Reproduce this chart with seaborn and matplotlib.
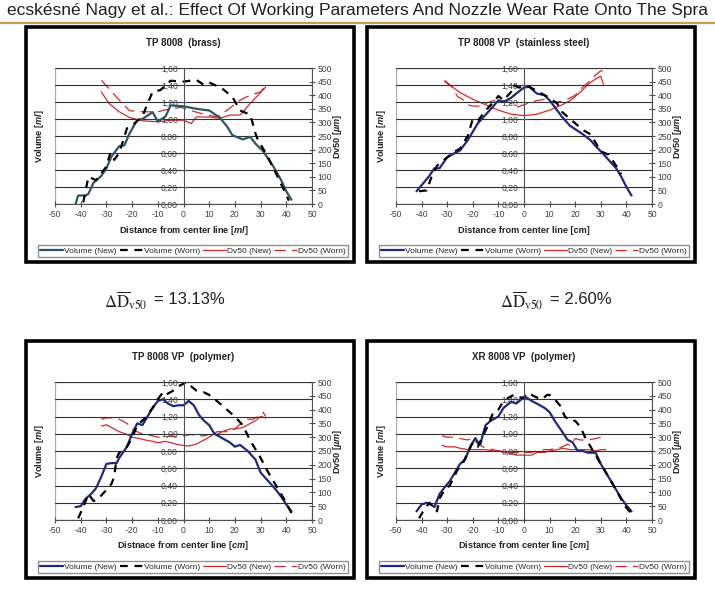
import matplotlib.pyplot as plt
import seaborn as sns
import pandas as pd
from matplotlib.patches import Rectangle
from matplotlib.lines import Line2D

sns.set_style('white')
plt.rcParams['font.family'] = ['Liberation Sans', 'DejaVu Sans']
plt.rcParams['mathtext.fontset'] = 'custom'
plt.rcParams['mathtext.rm'] = 'Liberation Sans'
plt.rcParams['mathtext.it'] = 'Liberation Sans:italic'
plt.rcParams['mathtext.bf'] = 'Liberation Sans:bold:italic'

# ---- axis ticks ----
x_ticks = [-50, -40, -30, -20, -10, 0, 10, 20, 30, 40, 50]
vol_ticks = [0.0, 0.2, 0.4, 0.6, 0.8, 1.0, 1.2, 1.4, 1.6]
vol_tick_labels = ['0,00', '0,20', '0,40', '0,60', '0,80', '1,00', '1,20', '1,40', '1,60']
dv_ticks = [0, 50, 100, 150, 200, 250, 300, 350, 400, 450, 500]

legend_labels = ['Volume (New)', 'Volume (Worn)', 'Dv50 (New)', 'Dv50 (Worn)']

# ---- TP 8008 (brass) ----
brass_vol_new_x = [-42, -41, -38, -37, -35, -32, -30, -28, -27, -25, -23, -21, -18, -16, -12, -10, -7, -5,
                   0, 5, 10, 14, 17, 19, 23, 26, 28, 31, 35, 38, 40, 42]
brass_vol_new_y = [0.00, 0.10, 0.10, 0.12, 0.25, 0.33, 0.42, 0.56, 0.60, 0.68, 0.69, 0.83, 0.99, 1.00, 1.08,
                   0.97, 1.03, 1.16, 1.15, 1.12, 1.10, 1.02, 0.91, 0.81, 0.76, 0.79, 0.71, 0.62, 0.44, 0.28,
                   0.15, 0.05]
brass_vol_worn_x = [-39, -37, -34, -30, -28.5, -27, -25, -22, -19, -16, -14, -12, -9, -5, 0, 5, 8, 10, 15,
                    19, 22, 26, 28, 29, 32, 36, 39, 41]
brass_vol_worn_y = [0.02, 0.32, 0.28, 0.44, 0.60, 0.52, 0.60, 0.89, 0.95, 1.03, 1.18, 1.32, 1.34, 1.45, 1.44,
                    1.46, 1.40, 1.43, 1.36, 1.26, 1.10, 1.05, 0.83, 0.75, 0.60, 0.36, 0.17, 0.04]
brass_dv_new_x = [-32, -29, -25, -21, -16, -10, -5, 0, 3, 5, 10, 14, 18, 22, 26, 29, 32]
brass_dv_new_y = [412, 370, 339, 318, 306, 302, 308, 308, 296, 320, 320, 315, 327, 327, 370, 400, 430]
brass_dv_worn_x = [-32, -29, -25, -21, -16, -10, -5, -1, 3, 8, 13, 17, 22, 26, 30, 32]
brass_dv_worn_y = [455, 424, 382, 343, 339, 339, 351, 355, 343, 330, 320, 345, 382, 400, 412, 437]

# ---- TP 8008 VP (stainless steel) ----
steel_vol_new_x = [-42, -40, -37, -35, -33, -30, -27, -25, -22, -20, -18, -15, -12, -10, -8, -5, -3, 0, 2, 5,
                   8, 10, 13, 15, 18, 20, 23, 26, 28, 30, 33, 36, 38, 40, 42]
steel_vol_new_y = [0.15, 0.22, 0.33, 0.42, 0.42, 0.55, 0.60, 0.63, 0.75, 0.85, 0.95, 1.05, 1.15, 1.22, 1.20,
                   1.25, 1.30, 1.37, 1.38, 1.30, 1.28, 1.22, 1.10, 1.02, 0.92, 0.88, 0.82, 0.75, 0.68, 0.62,
                   0.52, 0.42, 0.32, 0.20, 0.10]
steel_vol_worn_x = [-41, -38, -36, -34, -30, -27, -25, -22, -20, -18, -15, -12, -10, -8, -5, -4, -2, 0, 2, 5,
                    8, 10, 13, 15, 18, 20, 23, 26, 28, 30, 33, 36, 38]
steel_vol_worn_y = [0.15, 0.16, 0.33, 0.45, 0.55, 0.62, 0.65, 0.80, 1.00, 0.98, 1.10, 1.20, 1.27, 1.22, 1.32,
                    1.40, 1.37, 1.38, 1.38, 1.33, 1.28, 1.25, 1.18, 1.08, 1.00, 0.95, 0.87, 0.82, 0.72, 0.62,
                    0.58, 0.45, 0.35]
steel_dv_new_x = [-31, -28, -25, -22, -20, -15, -10, -5, 0, 5, 10, 15, 18, 20, 23, 25, 28, 30, 31]
steel_dv_new_y = [450, 430, 410, 395, 385, 365, 345, 330, 325, 330, 345, 365, 380, 395, 420, 440, 460, 470, 440]
steel_dv_worn_x = [-31, -28, -26, -24, -22, -20, -17, -15, -12, -10, -8, -5, -3, 0, 3, 5, 8, 10, 13, 16, 20,
                   23, 26, 28, 30, 32]
steel_dv_worn_y = [455, 430, 395, 385, 365, 360, 360, 370, 380, 375, 380, 370, 355, 365, 375, 380, 385, 375,
                   375, 380, 400, 430, 455, 475, 490, 485]

# ---- TP 8008 VP (polymer) ----
tppoly_vol_new_x = [-42, -40, -38, -36, -34, -32, -30, -28, -26, -25, -22, -20, -18, -16, -15, -12, -10, -8,
                    -6, -4, -2, 0, 2, 4, 6, 8, 10, 12, 15, 18, 20, 22, 25, 28, 30, 33, 36, 38, 40, 42]
tppoly_vol_new_y = [0.15, 0.16, 0.25, 0.30, 0.37, 0.50, 0.65, 0.66, 0.66, 0.72, 0.85, 1.00, 1.12, 1.10, 1.15,
                    1.30, 1.38, 1.40, 1.35, 1.32, 1.33, 1.33, 1.38, 1.33, 1.22, 1.15, 1.10, 1.00, 0.95, 0.90,
                    0.85, 0.87, 0.80, 0.70, 0.55, 0.45, 0.35, 0.27, 0.18, 0.10]
tppoly_vol_worn_x = [-41, -39, -37, -35, -33, -30, -28, -27, -26, -25, -22, -20, -18, -15, -12, -10, -8, -7,
                     -4, -2, 0, 1, 3, 5, 8, 10, 13, 15, 18, 20, 23, 26, 28, 30, 33, 36, 39, 42]
tppoly_vol_worn_y = [0.02, 0.15, 0.30, 0.22, 0.25, 0.35, 0.42, 0.50, 0.72, 0.78, 0.85, 0.95, 1.10, 1.18, 1.30,
                     1.40, 1.48, 1.45, 1.50, 1.55, 1.58, 1.60, 1.55, 1.50, 1.48, 1.45, 1.38, 1.33, 1.25, 1.20,
                     1.10, 0.92, 0.82, 0.72, 0.55, 0.40, 0.25, 0.08]
tppoly_dv_new_x = [-32, -30, -27, -25, -22, -20, -17, -15, -12, -10, -7, -5, -3, 0, 2, 5, 8, 10, 13, 15, 18,
                   20, 23, 25, 28, 30, 32]
tppoly_dv_new_y = [340, 345, 330, 320, 310, 300, 295, 290, 285, 280, 285, 280, 275, 270, 268, 275, 290, 300,
                   320, 320, 330, 330, 335, 345, 360, 375, 370]
tppoly_dv_worn_x = [-32, -30, -27, -25, -22, -20, -17, -15, -12, -10, -7, -5, -3, 0, 3, 5, 8, 10, 12, 15, 18,
                    20, 23, 25, 27, 30, 31, 32]
tppoly_dv_worn_y = [365, 370, 370, 365, 350, 330, 315, 310, 305, 300, 300, 305, 300, 305, 310, 305, 305, 310,
                    305, 320, 320, 330, 355, 365, 365, 380, 390, 375]

# ---- XR 8008 VP (polymer) ----
xrpoly_vol_new_x = [-42, -40, -38, -36, -35, -33, -31, -29, -27, -25, -23, -21, -19, -18, -17, -16, -15, -13,
                    -10, -8, -5, -3, -1, 1, 3, 5, 8, 10, 12, 15, 17, 19, 21, 23, 25, 28, 30, 32, 34, 36, 38,
                    40, 42]
xrpoly_vol_new_y = [0.10, 0.18, 0.20, 0.17, 0.15, 0.30, 0.38, 0.45, 0.55, 0.65, 0.70, 0.85, 0.95, 0.90, 0.88,
                    1.00, 1.10, 1.15, 1.20, 1.30, 1.37, 1.35, 1.40, 1.42, 1.38, 1.35, 1.30, 1.25, 1.15, 1.02,
                    0.93, 0.90, 0.80, 0.80, 0.78, 0.78, 0.65, 0.55, 0.45, 0.35, 0.25, 0.17, 0.10]
xrpoly_vol_worn_x = [-41, -39, -37, -35, -34, -33, -31, -29, -26, -24, -22, -20, -18, -16, -14, -12, -10, -8,
                     -6, -4, -2, 0, 1, 3, 5, 7, 9, 10, 12, 14, 16, 18, 20, 22, 24, 26, 28, 30, 33, 36, 39, 42]
xrpoly_vol_worn_y = [0.02, 0.12, 0.20, 0.15, 0.10, 0.25, 0.35, 0.40, 0.58, 0.65, 0.78, 0.90, 0.85, 0.98, 1.10,
                     1.25, 1.28, 1.38, 1.42, 1.45, 1.42, 1.42, 1.47, 1.45, 1.42, 1.40, 1.45, 1.45, 1.40, 1.33,
                     1.20, 1.15, 1.15, 1.08, 0.95, 0.85, 0.75, 0.65, 0.50, 0.35, 0.18, 0.07]
xrpoly_dv_new_x = [-32, -30, -27, -25, -22, -20, -17, -15, -12, -10, -8, -5, -3, 0, 3, 5, 8, 10, 13, 15, 18,
                   20, 23, 25, 28, 30, 32]
xrpoly_dv_new_y = [270, 265, 265, 260, 255, 255, 255, 255, 250, 250, 245, 240, 235, 235, 235, 245, 245, 250,
                   255, 260, 255, 255, 255, 255, 250, 255, 255]
xrpoly_dv_worn_x = [-32, -30, -28, -25, -22, -20, -18, -15, -12, -10, -8, -5, -3, 0, 3, 5, 8, 10, 13, 15, 17,
                    18, 20, 22, 25, 28, 30, 32]
xrpoly_dv_worn_y = [305, 300, 300, 295, 290, 295, 275, 260, 255, 250, 250, 245, 245, 245, 245, 250, 255, 255,
                    260, 265, 275, 270, 295, 290, 290, 295, 300, 310]

W, H = 715, 593
RED = '#d42a2a'


def fx(px):
    return px / W


def fy(py):
    return 1 - py / H


def draw_panel(fig, frame, plot, title, xlabel, vol_color, series):
    # frame and plot are pixel boxes (x0, y0, x1, y1)
    fig.patches.append(Rectangle((fx(frame[0]), fy(frame[3])), (frame[2] - frame[0]) / W,
                                 (frame[3] - frame[1]) / H, transform=fig.transFigure,
                                 fill=False, edgecolor='black', linewidth=2.6, zorder=5))
    ax = fig.add_axes([fx(plot[0]), fy(plot[3]), (plot[2] - plot[0]) / W, (plot[3] - plot[1]) / H])
    ax2 = ax.twinx()

    (vnx, vny), (vwx, vwy), (dnx, dny), (dwx, dwy) = series
    sns.lineplot(x=vnx, y=vny, ax=ax, color=vol_color, linewidth=1.6, label=legend_labels[0])
    sns.lineplot(x=vwx, y=vwy, ax=ax, color='black', linewidth=1.6, linestyle=(0, (3.5, 3)),
                 label=legend_labels[1])
    sns.lineplot(x=dnx, y=dny, ax=ax2, color=RED, linewidth=0.9, label=legend_labels[2])
    sns.lineplot(x=dwx, y=dwy, ax=ax2, color=RED, linewidth=0.9, linestyle=(0, (9, 5)),
                 label=legend_labels[3])
    h1, _ = ax.get_legend_handles_labels()
    h2, _ = ax2.get_legend_handles_labels()
    ax.get_legend().remove()
    ax2.get_legend().remove()

    ax.set_xlim(-50, 50)
    ax.set_ylim(0, 1.6)
    ax2.set_ylim(0, 500)
    ax.set_xticks(x_ticks)
    ax.set_xticklabels([str(t) for t in x_ticks])
    ax.set_yticks(vol_ticks)
    ax.set_yticklabels(vol_tick_labels)
    ax2.set_yticks(dv_ticks)
    ax2.set_yticklabels([str(t) for t in dv_ticks])
    ax.set_xlabel('')
    ax.set_ylabel('')
    ax2.set_ylabel('')

    ax.grid(axis='y', color='#303030', linewidth=0.8)
    ax.grid(axis='x', visible=False)
    ax.set_axisbelow(True)
    ax.add_patch(Rectangle((0, 0), 1, 1, transform=ax.transAxes, fill=False,
                           edgecolor='#a8a8a8', linewidth=0.9, zorder=0))

    for s in ['top', 'right']:
        ax.spines[s].set_visible(False)
    ax.spines['left'].set_position(('data', 0))
    for s in ['top', 'left', 'bottom']:
        ax2.spines[s].set_visible(False)
    for sp in [ax.spines['left'], ax.spines['bottom'], ax2.spines['right']]:
        sp.set_color('#505050')
        sp.set_linewidth(0.8)

    ax.tick_params(axis='both', direction='inout', length=4, width=0.8, color='#505050',
                   labelsize=6.2, labelcolor='#404040', pad=2, left=True, bottom=True)
    ax2.tick_params(axis='y', direction='inout', length=4, width=0.8, color='#505050',
                    labelsize=6.2, labelcolor='#404040', pad=2, right=True)

    cx = (plot[0] + plot[2]) / 2
    cy = (plot[1] + plot[3]) / 2
    fig.text(fx(cx), fy(frame[1] + 16), title, ha='center', va='center', fontsize=7,
             fontweight='bold', color='#222222')
    fig.text(fx(cx), fy(plot[3] + 26), xlabel, ha='center', va='center', fontsize=6.6,
             fontweight='bold', color='#222222')
    fig.text(fx(plot[0] - 15), fy(cy), r'Volume [$\mathbf{ml}$]', ha='center', va='center',
             rotation=90, fontsize=6.6, fontweight='bold', color='#222222')
    fig.text(fx(plot[2] + 26), fy(cy), r'Dv50 [$\mathbf{µm}$]', ha='center', va='center',
             rotation=90, fontsize=6.6, fontweight='bold', color='#222222')

    leg_cx = (frame[0] + frame[2]) / 2 + 3
    fig.legend(h1 + h2, legend_labels, loc='center', bbox_to_anchor=(fx(leg_cx), fy(frame[3] - 11)),
               ncol=4, fontsize=6, frameon=True, fancybox=False, edgecolor='#909090',
               handlelength=2.8, handletextpad=0.1, columnspacing=0.35, borderpad=0.3,
               borderaxespad=0, framealpha=1)
    ax.set_zorder(ax2.get_zorder() + 1)
    ax.patch.set_visible(False)
    return ax


fig = plt.figure(figsize=(W / 100, H / 100), dpi=100)

fig.text(fx(357.5), fy(10), 'ecskésné Nagy et al.: Effect Of Working Parameters And Nozzle Wear Rate Onto The Spra',
         ha='center', va='center', fontsize=12.5, color='#202020')
fig.add_artist(Line2D([0, 1], [fy(23), fy(23)], transform=fig.transFigure, color='#c89b55', linewidth=1.6))

draw_panel(fig, (26, 27, 354, 262), (55, 68, 312, 204), 'TP 8008  (brass)',
           r'Distance from center line [$\mathbf{ml}$]', '#2a5668',
           [(brass_vol_new_x, brass_vol_new_y), (brass_vol_worn_x, brass_vol_worn_y),
            (brass_dv_new_x, brass_dv_new_y), (brass_dv_worn_x, brass_dv_worn_y)])
draw_panel(fig, (367, 27, 695, 262), (396, 68, 652, 204), 'TP 8008 VP  (stainless steel)',
           'Distance from center line [cm]', '#1d2a7e',
           [(steel_vol_new_x, steel_vol_new_y), (steel_vol_worn_x, steel_vol_worn_y),
            (steel_dv_new_x, steel_dv_new_y), (steel_dv_worn_x, steel_dv_worn_y)])
draw_panel(fig, (26, 341, 354, 578), (55, 382, 312, 520), 'TP 8008 VP  (polymer)',
           r'Distnace from center line [$\mathbf{cm}$]', '#1d2a7e',
           [(tppoly_vol_new_x, tppoly_vol_new_y), (tppoly_vol_worn_x, tppoly_vol_worn_y),
            (tppoly_dv_new_x, tppoly_dv_new_y), (tppoly_dv_worn_x, tppoly_dv_worn_y)])
draw_panel(fig, (367, 341, 695, 578), (396, 382, 652, 520), 'XR 8008 VP  (polymer)',
           r'Distance from center line [$\mathbf{cm}$]', '#1d2a7e',
           [(xrpoly_vol_new_x, xrpoly_vol_new_y), (xrpoly_vol_worn_x, xrpoly_vol_worn_y),
            (xrpoly_dv_new_x, xrpoly_dv_new_y), (xrpoly_dv_worn_x, xrpoly_dv_worn_y)])

# wear rate annotations between the rows
for x0, txt in [(104, '= 13.13%'), (500, '= 2.60%')]:
    fig.text(fx(x0), fy(301), r'$\Delta\overline{\mathrm{D}}_{\mathrm{v50}}$', ha='left', va='center',
             fontsize=12, math_fontfamily='stix', color='#202020')
    fig.text(fx(x0 + 50), fy(300), txt, ha='left', va='center', fontsize=12, color='#202020')

fig.savefig('out.png', dpi=100)
